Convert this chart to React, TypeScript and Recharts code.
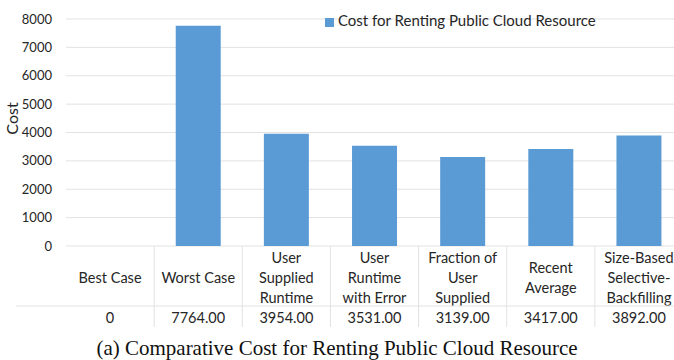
import { Bar, BarChart, CartesianGrid, Legend, XAxis, YAxis } from "recharts";

const categories = [
  "Best Case",
  "Worst Case",
  "User Supplied Runtime",
  "User Runtime with Error",
  "Fraction of User Supplied",
  "Recent Average",
  "Size-Based Selective-Backfilling",
];

// how each category label wraps in the table header
const headerLines = [
  ["Best Case"],
  ["Worst Case"],
  ["User", "Supplied", "Runtime"],
  ["User", "Runtime", "with Error"],
  ["Fraction of", "User", "Supplied"],
  ["Recent", "Average"],
  ["Size-Based", "Selective-", "Backfilling"],
];

const cost = [0, 7764, 3954, 3531, 3139, 3417, 3892];

const yTicks = [0, 1000, 2000, 3000, 4000, 5000, 6000, 7000, 8000];

const seriesName = "Cost for Renting Public Cloud Resource";
const caption = "(a) Comparative Cost for Renting Public Cloud Resource";

const data = categories.map((name, i) => ({ name, cost: cost[i] }));

const W = 690;
const H = 360;
const M = { top: 19, right: 7, left: 0, bottom: 34 };
const Y_W = 66;
const X_H = 80;
const BAND = (W - M.left - M.right - Y_W) / categories.length;
const FONT = "Lato, 'Open Sans', sans-serif";
const GRID = "#e2e2e2";
const TEXT = "#262626";

const fmt = (v: number) => (v === 0 ? "0" : v.toFixed(2));

function TableTick(props: any) {
  const { x, y, index } = props;
  const lines = headerLines[index];
  const mid = y + 31;
  return (
    <g fontFamily={FONT} fontSize={14.5} fill={TEXT}>
      {lines.map((t, j) => (
        <text
          key={j}
          x={x}
          y={mid + (j - (lines.length - 1) / 2) * 20}
          textAnchor="middle"
          dominantBaseline="central"
        >
          {t}
        </text>
      ))}
      <text x={x} y={y + 71} textAnchor="middle" dominantBaseline="central">
        {fmt(cost[index])}
      </text>
      <line x1={x + BAND / 2} x2={x + BAND / 2} y1={y} y2={y + 81} stroke={GRID} />
      <line
        x1={index === 0 ? 16 : x - BAND / 2}
        x2={x + BAND / 2}
        y1={y + 60}
        y2={y + 60}
        stroke={GRID}
      />
    </g>
  );
}

export default function App() {
  return (
    <div style={{ position: "absolute", left: 0, top: 0, width: 674, height: 360, overflow: "hidden", background: "#fff" }}>
      <BarChart width={W} height={H} data={data} margin={M} barCategoryGap="24.5%">
        <CartesianGrid vertical={false} stroke={GRID} />
        <XAxis
          dataKey="name"
          height={X_H}
          interval={0}
          axisLine={false}
          tickLine={false}
          tickSize={0}
          tickMargin={0}
          tick={<TableTick />}
        />
        <YAxis
          width={Y_W}
          domain={[0, 8000]}
          ticks={yTicks}
          axisLine={false}
          tickLine={false}
          tickSize={0}
          tickMargin={14}
          tick={{ fill: TEXT, fontSize: 13, fontFamily: FONT }}
          label={{
            value: "Cost",
            angle: -90,
            position: "insideLeft",
            offset: 12,
            dy: -14,
            style: { textAnchor: "middle", fill: TEXT, fontSize: 16, fontFamily: FONT },
          }}
        />
        <Legend
          layout="vertical"
          align="center"
          verticalAlign="middle"
          iconType="square"
          iconSize={9}
          wrapperStyle={{ top: 11, left: 325, width: 320 }}
          formatter={(v) => <span style={{ color: TEXT, fontSize: 15, fontFamily: FONT }}>{v}</span>}
        />
        <Bar dataKey="cost" name={seriesName} fill="#5b9bd5" isAnimationActive={false} />
      </BarChart>
      <div
        style={{
          position: "absolute",
          left: 0,
          top: 337,
          width: 674,
          textAlign: "center",
          fontFamily: "'Liberation Serif', serif",
          fontSize: 21,
          lineHeight: "22px",
          color: "#111",
        }}
      >
        {caption}
      </div>
    </div>
  );
}
